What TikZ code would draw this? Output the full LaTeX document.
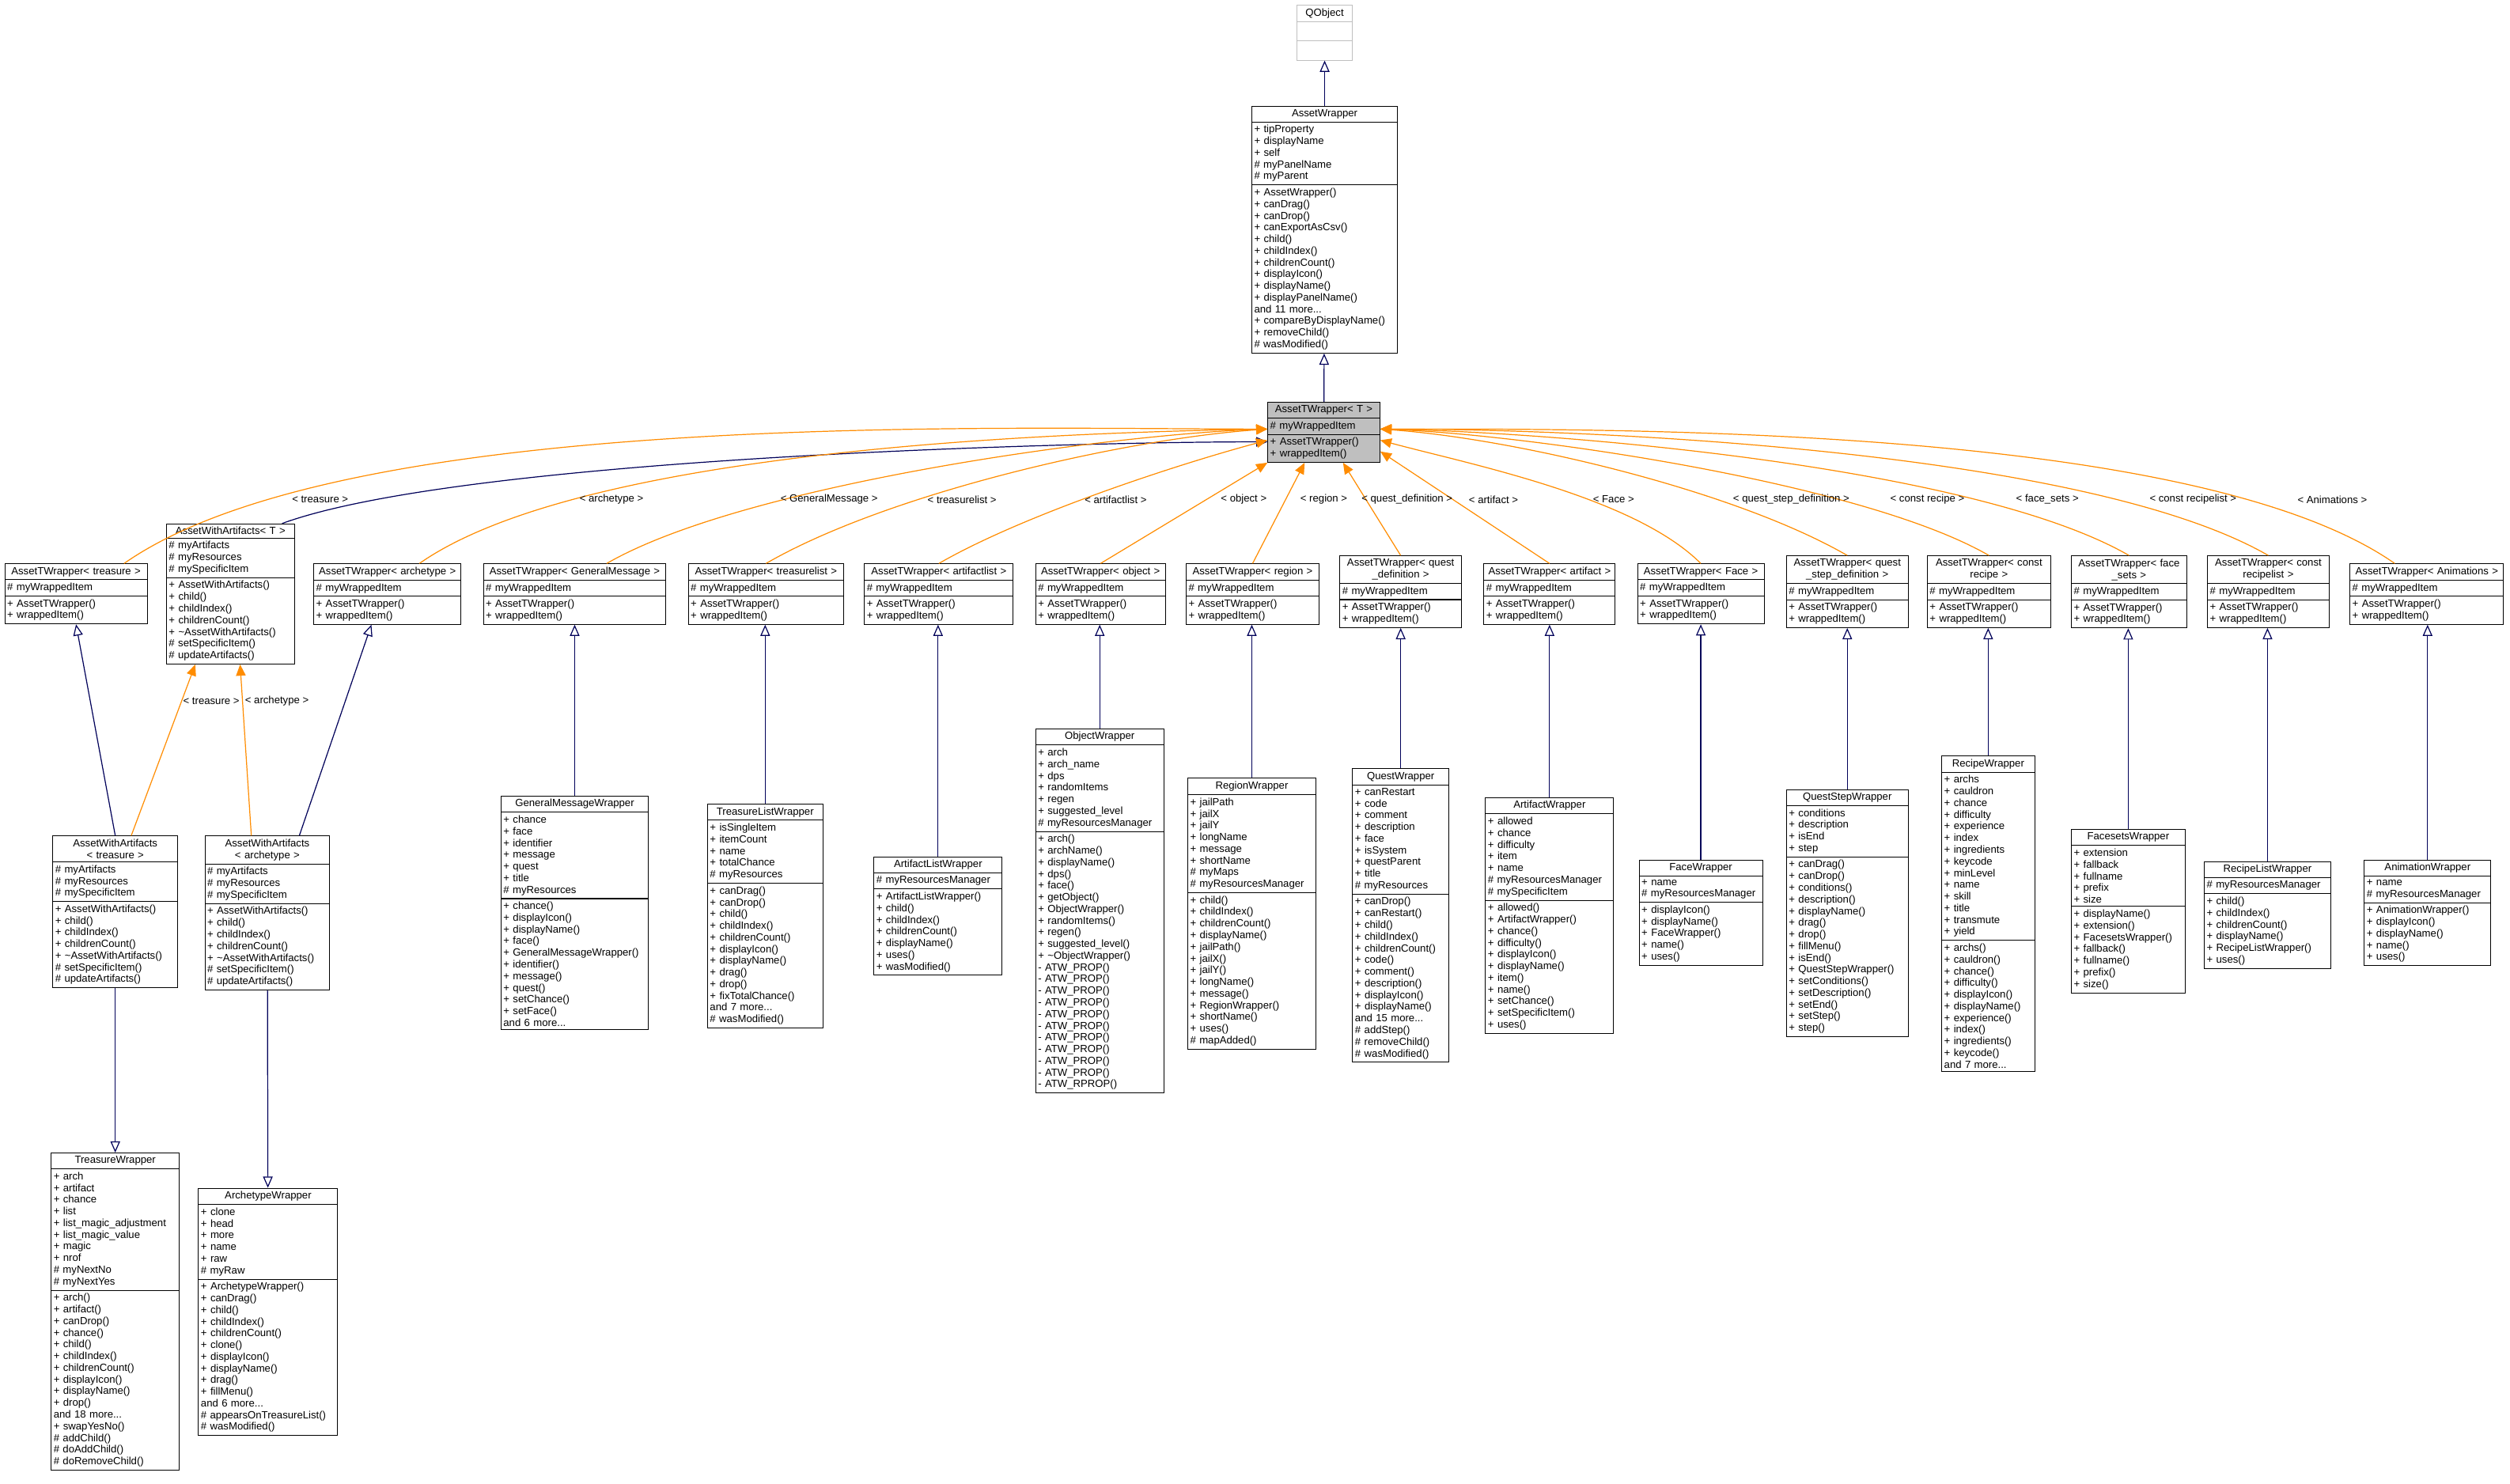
\documentclass[tikz,border=0pt]{standalone}
\usepackage{fontspec}
\setmainfont{Liberation Sans}
\usetikzlibrary{shapes.multipart,arrows.meta,calc}
\newcommand{\cls}[8][]{\node[cls, #1, text width=#5pt] (#2) at (#3,#4) {\parbox{\hsize}{\centering #6}\nodepart{two}#7\nodepart{three}#8};}
\newcommand{\twrap}{\# myWrappedItem}
\newcommand{\tmeth}{+ AssetTWrapper()\\+ wrappedItem()}
\newcommand{\awaAttr}{\# myArtifacts\\\# myResources\\\# mySpecificItem}
\newcommand{\awaMeth}{+ AssetWithArtifacts()\\+ child()\\+ childIndex()\\+ childrenCount()\\+ \textasciitilde AssetWithArtifacts()\\\# setSpecificItem()\\\# updateArtifacts()}
\newcommand{\atw}{- ATW\_PROP()}

\begin{document}
\begin{tikzpicture}
                \tikzset{x=1pt, y=-1pt}
                \tikzstyle{cls}=[rectangle split, rectangle split parts=3, draw, fill=white, line width=0.5pt,
                  inner xsep=1.5pt, inner ysep=1.8pt, align=left, anchor=north,
                  font=\fontsize{6.5}{7.3}\selectfont]
                \tikzstyle{inh}=[draw=blue!35!black, line width=0.6pt, -{Triangle[open, length=7pt, width=6pt]}]
                \tikzstyle{tmpl}=[draw=orange!90!yellow, line width=0.6pt, -{Triangle[length=7pt, width=6pt]}]
                \tikzstyle{lbl}=[font=\fontsize{6.5}{7.3}\selectfont, inner sep=1pt]

                \useasboundingbox (0,0) rectangle (1568,927);

                % top of the tree
                \cls[draw=gray!50]{qobject}{827.5}{3}{32}{QObject}{\rule{0pt}{8pt}}{\rule{0pt}{8pt}}
                \cls{asset}{827.5}{66}{88}{AssetWrapper}
                  {+ tipProperty\\+ displayName\\+ self\\\# myPanelName\\\# myParent}
                  {+ AssetWrapper()\\+ canDrag()\\+ canDrop()\\+ canExportAsCsv()\\+ child()\\+ childIndex()\\+ childrenCount()\\+ displayIcon()\\+ displayName()\\+ displayPanelName()\\and 11 more...\\+ compareByDisplayName()\\+ removeChild()\\\# wasModified()}
                \cls[fill=black!25]{twrapper}{827}{251}{67}{AssetTWrapper< T >}{\twrap}{\tmeth}

                % template instances
                \cls{tTreasure}{47.5}{352}{86}{AssetTWrapper< treasure >}{\twrap}{\tmeth}
                \cls{awaT}{144}{327}{77}{AssetWithArtifacts< T >}{\awaAttr}{\awaMeth}
                \cls{tArchetype}{242}{352}{89}{AssetTWrapper< archetype >}{\twrap}{\tmeth}
                \cls{tMessage}{359}{352}{111}{AssetTWrapper< GeneralMessage >}{\twrap}{\tmeth}
                \cls{tTreasureList}{478.5}{352}{94}{AssetTWrapper< treasurelist >}{\twrap}{\tmeth}
                \cls{tArtifactList}{586.5}{352}{90}{AssetTWrapper< artifactlist >}{\twrap}{\tmeth}
                \cls{tObject}{687.5}{352}{78}{AssetTWrapper< object >}{\twrap}{\tmeth}
                \cls{tRegion}{782.5}{352}{80}{AssetTWrapper< region >}{\twrap}{\tmeth}
                \cls{tQuest}{875}{347}{73}{AssetTWrapper< quest\\\_definition >}{\twrap}{\tmeth}
                \cls{tArtifact}{968}{352}{79}{AssetTWrapper< artifact >}{\twrap}{\tmeth}
                \cls{tFace}{1062.5}{352}{76}{AssetTWrapper< Face >}{\twrap}{\tmeth}
                \cls{tQuestStep}{1154}{347}{73}{AssetTWrapper< quest\\\_step\_definition >}{\twrap}{\tmeth}
                \cls{tRecipe}{1242.5}{347}{74}{AssetTWrapper< const\\ recipe >}{\twrap}{\tmeth}
                \cls{tFacesets}{1330}{347}{69}{AssetTWrapper< face\\\_sets >}{\twrap}{\tmeth}
                \cls{tRecipeList}{1417}{347}{73}{AssetTWrapper< const\\ recipelist >}{\twrap}{\tmeth}
                \cls{tAnimations}{1516}{352}{93}{AssetTWrapper< Animations >}{\twrap}{\tmeth}

                % concrete wrappers
                \cls{awaTreasure}{72}{522}{75}{AssetWithArtifacts\\< treasure >}{\awaAttr}{\awaMeth}
                \cls{awaArchetype}{167}{522}{75}{AssetWithArtifacts\\< archetype >}{\awaAttr}{\awaMeth}
                \cls{messageW}{359}{497}{89}{GeneralMessageWrapper}
                  {+ chance\\+ face\\+ identifier\\+ message\\+ quest\\+ title\\\# myResources}
                  {+ chance()\\+ displayIcon()\\+ displayName()\\+ face()\\+ GeneralMessageWrapper()\\+ identifier()\\+ message()\\+ quest()\\+ setChance()\\+ setFace()\\and 6 more...}
                \cls{treasureListW}{478}{502}{69}{TreasureListWrapper}
                  {+ isSingleItem\\+ itemCount\\+ name\\+ totalChance\\\# myResources}
                  {+ canDrag()\\+ canDrop()\\+ child()\\+ childIndex()\\+ childrenCount()\\+ displayIcon()\\+ displayName()\\+ drag()\\+ drop()\\+ fixTotalChance()\\and 7 more...\\\# wasModified()}
                \cls{artifactListW}{586}{535}{77}{ArtifactListWrapper}
                  {\# myResourcesManager}
                  {+ ArtifactListWrapper()\\+ child()\\+ childIndex()\\+ childrenCount()\\+ displayName()\\+ uses()\\+ wasModified()}
                \cls{objectW}{687}{455}{77}{ObjectWrapper}
                  {+ arch\\+ arch\_name\\+ dps\\+ randomItems\\+ regen\\+ suggested\_level\\\# myResourcesManager}
                  {+ arch()\\+ archName()\\+ displayName()\\+ dps()\\+ face()\\+ getObject()\\+ ObjectWrapper()\\+ randomItems()\\+ regen()\\+ suggested\_level()\\+ \textasciitilde ObjectWrapper()\\\atw\\\atw\\\atw\\\atw\\\atw\\\atw\\\atw\\\atw\\\atw\\\atw\\- ATW\_RPROP()}
                \cls{regionW}{782}{486}{77}{RegionWrapper}
                  {+ jailPath\\+ jailX\\+ jailY\\+ longName\\+ message\\+ shortName\\\# myMaps\\\# myResourcesManager}
                  {+ child()\\+ childIndex()\\+ childrenCount()\\+ displayName()\\+ jailPath()\\+ jailX()\\+ jailY()\\+ longName()\\+ message()\\+ RegionWrapper()\\+ shortName()\\+ uses()\\\# mapAdded()}
                \cls{questW}{875}{480}{57}{QuestWrapper}
                  {+ canRestart\\+ code\\+ comment\\+ description\\+ face\\+ isSystem\\+ questParent\\+ title\\\# myResources}
                  {+ canDrop()\\+ canRestart()\\+ child()\\+ childIndex()\\+ childrenCount()\\+ code()\\+ comment()\\+ description()\\+ displayIcon()\\+ displayName()\\and 15 more...\\\# addStep()\\\# removeChild()\\\# wasModified()}
                \cls{artifactW}{968}{498}{77}{ArtifactWrapper}
                  {+ allowed\\+ chance\\+ difficulty\\+ item\\+ name\\\# myResourcesManager\\\# mySpecificItem}
                  {+ allowed()\\+ ArtifactWrapper()\\+ chance()\\+ difficulty()\\+ displayIcon()\\+ displayName()\\+ item()\\+ name()\\+ setChance()\\+ setSpecificItem()\\+ uses()}
                \cls{faceW}{1062.5}{537}{74}{FaceWrapper}
                  {+ name\\\# myResourcesManager}
                  {+ displayIcon()\\+ displayName()\\+ FaceWrapper()\\+ name()\\+ uses()}
                \cls{questStepW}{1154}{493}{73}{QuestStepWrapper}
                  {+ conditions\\+ description\\+ isEnd\\+ step}
                  {+ canDrag()\\+ canDrop()\\+ conditions()\\+ description()\\+ displayName()\\+ drag()\\+ drop()\\+ fillMenu()\\+ isEnd()\\+ QuestStepWrapper()\\+ setConditions()\\+ setDescription()\\+ setEnd()\\+ setStep()\\+ step()}
                \cls{recipeW}{1242}{472}{55}{RecipeWrapper}
                  {+ archs\\+ cauldron\\+ chance\\+ difficulty\\+ experience\\+ index\\+ ingredients\\+ keycode\\+ minLevel\\+ name\\+ skill\\+ title\\+ transmute\\+ yield}
                  {+ archs()\\+ cauldron()\\+ chance()\\+ difficulty()\\+ displayIcon()\\+ displayName()\\+ experience()\\+ index()\\+ ingredients()\\+ keycode()\\and 7 more...}
                \cls{facesetsW}{1329.5}{518}{68}{FacesetsWrapper}
                  {+ extension\\+ fallback\\+ fullname\\+ prefix\\+ size}
                  {+ displayName()\\+ extension()\\+ FacesetsWrapper()\\+ fallback()\\+ fullname()\\+ prefix()\\+ size()}
                \cls{recipeListW}{1416.5}{538}{76}{RecipeListWrapper}
                  {\# myResourcesManager}
                  {+ child()\\+ childIndex()\\+ childrenCount()\\+ displayName()\\+ RecipeListWrapper()\\+ uses()}
                \cls{animationW}{1516.5}{537}{76}{AnimationWrapper}
                  {+ name\\\# myResourcesManager}
                  {+ AnimationWrapper()\\+ displayIcon()\\+ displayName()\\+ name()\\+ uses()}
                \cls{treasureW}{72}{720}{77}{TreasureWrapper}
                  {+ arch\\+ artifact\\+ chance\\+ list\\+ list\_magic\_adjustment\\+ list\_magic\_value\\+ magic\\+ nrof\\\# myNextNo\\\# myNextYes}
                  {+ arch()\\+ artifact()\\+ canDrop()\\+ chance()\\+ child()\\+ childIndex()\\+ childrenCount()\\+ displayIcon()\\+ displayName()\\+ drop()\\and 18 more...\\+ swapYesNo()\\\# addChild()\\\# doAddChild()\\\# doRemoveChild()}
                \cls{archetypeW}{167.5}{742}{84}{ArchetypeWrapper}
                  {+ clone\\+ head\\+ more\\+ name\\+ raw\\\# myRaw}
                  {+ ArchetypeWrapper()\\+ canDrag()\\+ child()\\+ childIndex()\\+ childrenCount()\\+ clone()\\+ displayIcon()\\+ displayName()\\+ drag()\\+ fillMenu()\\and 6 more...\\\# appearsOnTreasureList()\\\# wasModified()}

                % inheritance
                \draw[inh] (asset) -- (qobject);
                \draw[inh] (twrapper) -- (asset);
                \draw[inh] ($(awaT.north east)+(-8,0)$) to[out=20, in=180, looseness=0.5] ($(twrapper.west)+(0,6)$);
                \draw[inh] (awaTreasure.north) -- (tTreasure.south);
                \draw[inh] ($(awaArchetype.north)+(20,0)$) -- ($(tArchetype.south)+(-10,0)$);
                \draw[inh] (awaTreasure) -- (treasureW);
                \draw[inh] (awaArchetype) -- (archetypeW);
                \foreach \c/\p in {messageW/tMessage, treasureListW/tTreasureList, artifactListW/tArtifactList,
                    objectW/tObject, regionW/tRegion, questW/tQuest, artifactW/tArtifact, faceW/tFace,
                    questStepW/tQuestStep, recipeW/tRecipe, facesetsW/tFacesets, recipeListW/tRecipeList,
                    animationW/tAnimations}
                  \draw[inh] (\c.north) -- (\c.north |- \p.south);

                % template arguments
                \coordinate (tL) at ($(twrapper.west)+(0,-2)$);
                \coordinate (tL2) at ($(twrapper.west)+(0,5)$);
                \coordinate (tR) at ($(twrapper.east)+(0,-2)$);
                \coordinate (tR2) at ($(twrapper.east)+(0,5)$);
                \coordinate (tR3) at ($(twrapper.east)+(0,12)$);
                \draw[tmpl] ($(tTreasure.north)+(30,0)$) to[out=35, in=180, looseness=0.6] (tL);
                \draw[tmpl] ($(tArchetype.north)+(20,0)$) to[out=35, in=181, looseness=0.6] (tL);
                \draw[tmpl] ($(tMessage.north)+(20,0)$) to[out=30, in=182, looseness=0.6] (tL);
                \draw[tmpl] (tTreasureList.north) to[out=30, in=184, looseness=0.7] (tL);
                \draw[tmpl] (tArtifactList.north) to[out=30, in=195, looseness=0.7] (tL2);
                \draw[tmpl] (tObject.north) -- (twrapper.south west);
                \draw[tmpl] (tRegion.north) -- ($(twrapper.south)+(-12,0)$);
                \draw[tmpl] (tQuest.north) -- ($(twrapper.south)+(12,0)$);
                \draw[tmpl] (tArtifact.north) -- (tR3);
                \draw[tmpl] (tFace.north) to[out=135, in=-15, looseness=0.7] (tR2);
                \draw[tmpl] (tQuestStep.north) to[out=150, in=-4, looseness=0.7] (tR);
                \draw[tmpl] (tRecipe.north) to[out=150, in=-2, looseness=0.6] (tR);
                \draw[tmpl] (tFacesets.north) to[out=150, in=-1, looseness=0.6] (tR);
                \draw[tmpl] (tRecipeList.north) to[out=150, in=0, looseness=0.6] (tR);
                \draw[tmpl] ($(tAnimations.north)+(-20,0)$) to[out=145, in=0, looseness=0.6] (tR);
                \draw[tmpl] ($(awaTreasure.north)+(10,0)$) -- ($(awaT.south)+(-22,0)$);
                \draw[tmpl] ($(awaArchetype.north)+(-10,0)$) -- ($(awaT.south)+(6,0)$);

                \node[lbl] (lTreasure) at (200,312) {< treasure >};
                \node[lbl] (lArchetype) at (382,312) {< archetype >};
                \node[lbl] (lMessage) at (518,312) {< GeneralMessage >};
                \node[lbl] (lTreasureList) at (601,312) {< treasurelist >};
                \node[lbl] (lArtifactList) at (697,312) {< artifactlist >};
                \node[lbl] (lObject) at (777,312) {< object >};
                \node[lbl] (lRegion) at (827,312) {< region >};
                \node[lbl] (lQuest) at (879,312) {< quest\_definition >};
                \node[lbl] (lArtifact) at (933,312) {< artifact >};
                \node[lbl] (lFace) at (1008,312) {< Face >};
                \node[lbl] (lQuestStep) at (1119,312) {< quest\_step\_definition >};
                \node[lbl] (lRecipe) at (1204,312) {< const recipe >};
                \node[lbl] (lFacesets) at (1279,312) {< face\_sets >};
                \node[lbl] (lRecipeList) at (1370,312) {< const recipelist >};
                \node[lbl] (lAnimations) at (1457,312) {< Animations >};
                \node[lbl] (lAwaTreasure) at (132,438) {< treasure >};
                \node[lbl] (lAwaArchetype) at (173,438) {< archetype >};
            \end{tikzpicture}
\end{document}
